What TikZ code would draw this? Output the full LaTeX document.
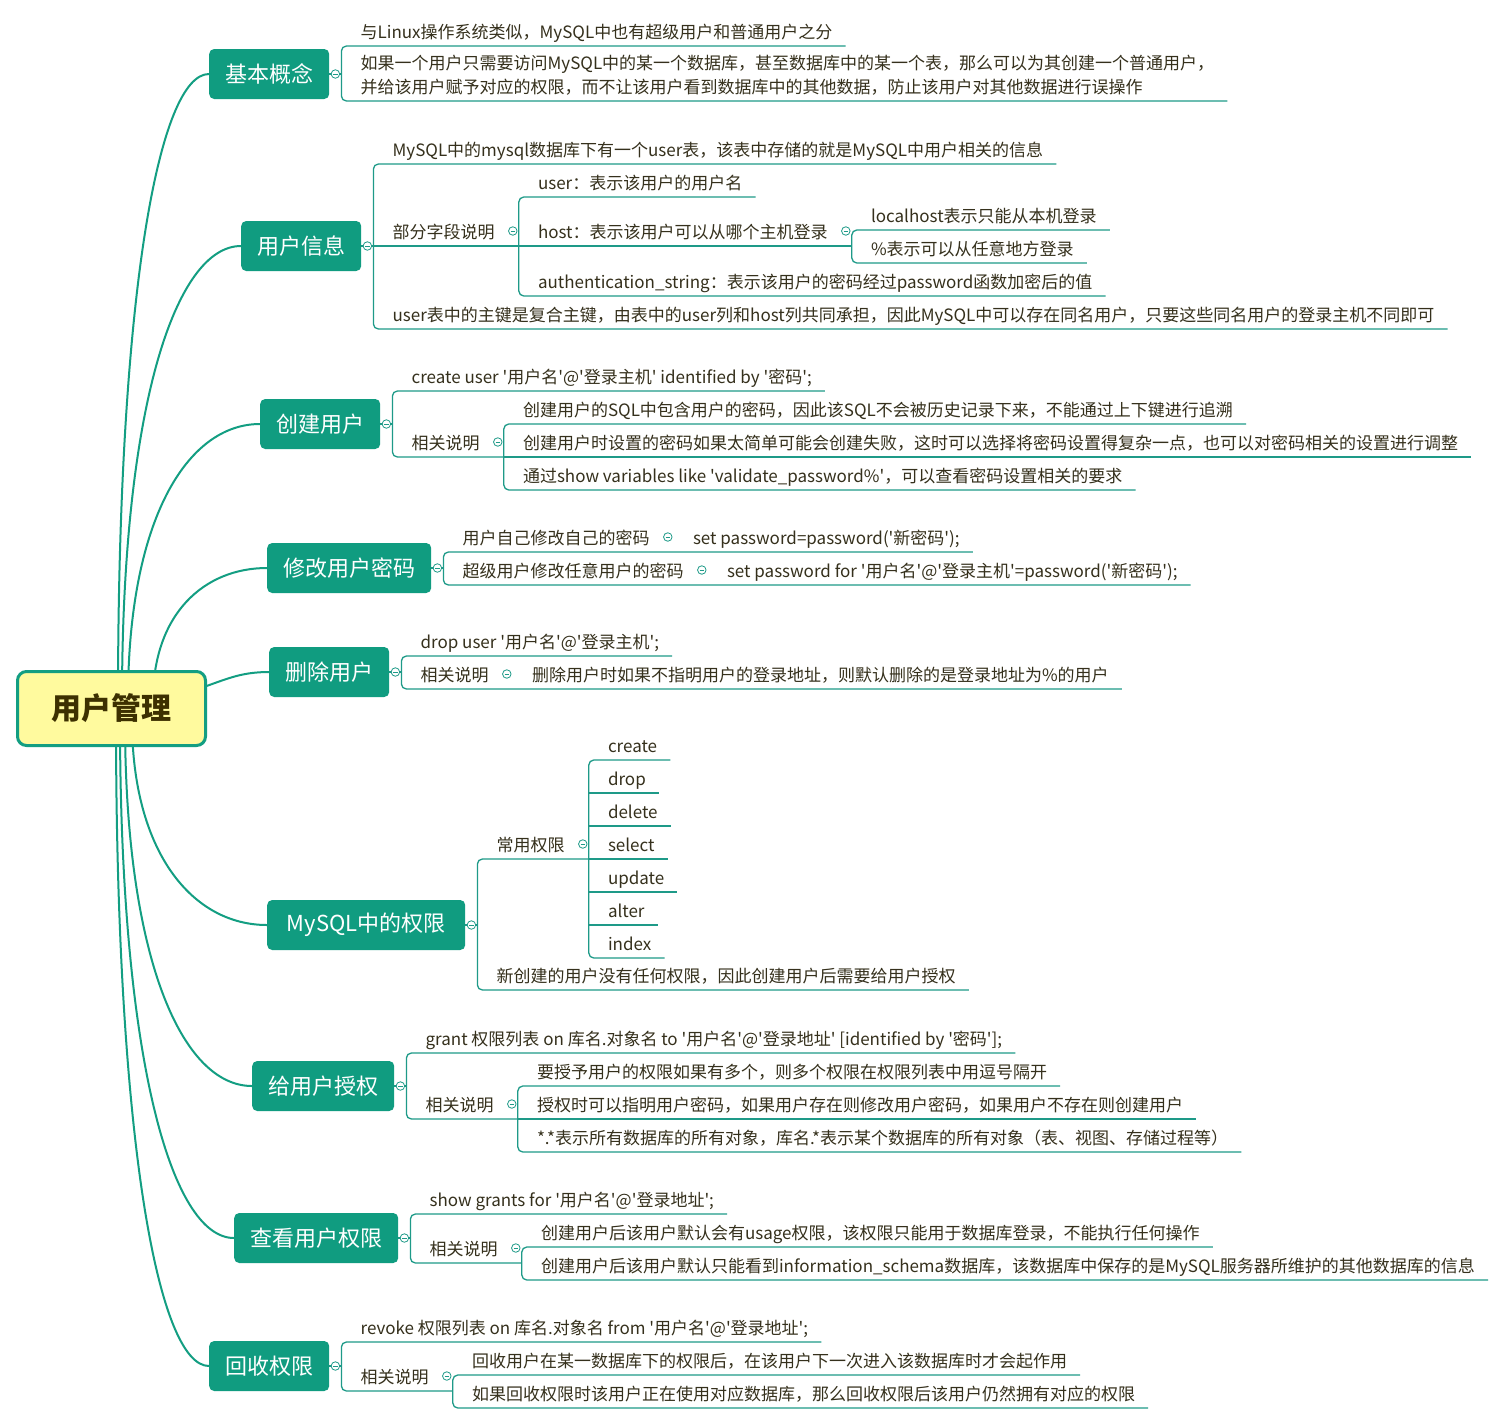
\documentclass[tikz,border=0pt]{standalone}
\usepackage{fontspec}
\setmainfont{Noto Sans CJK SC}[Ligatures=TeXOff]
\usetikzlibrary{calc}
\definecolor{bc}{HTML}{109C80}
\definecolor{lc}{HTML}{1E9A88}
\definecolor{rl}{HTML}{139E82}
\definecolor{rfill}{HTML}{FFFA9E}
\definecolor{rtxt}{HTML}{3D3000}
\definecolor{tc}{HTML}{35301C}
\pgfdeclarelayer{paper}\pgfdeclarelayer{lines}
\pgfsetlayers{paper,lines,main}
\newcommand\lf{\fontsize{17}{24}\selectfont}
\newcommand\bfnt{\fontsize{22}{26}\selectfont}
\newcommand\rfnt{\fontsize{30}{36}\selectfont\bfseries}
\tikzset{
 conn/.style={draw=lc, line width=1.3pt},
 spine/.style={conn, rounded corners=5pt},
 curve/.style={draw=rl, line width=2pt},
 leaf/.style={font=\lf, text=tc, inner xsep=13pt, inner ysep=0pt, text height=13pt, text depth=7.8pt, anchor=south west},
 br/.style={rounded corners=5pt, fill=bc, text=white, font=\bfnt, minimum height=50pt, inner xsep=16pt, inner ysep=0pt, anchor=west},
 rootbox/.style={rounded corners=9pt, draw=rl, line width=3pt, fill=rfill, text=rtxt, font=\rfnt, minimum width=188pt, minimum height=74pt},
 tog/.style={circle, draw=lc, fill=white, line width=0.8pt, minimum size=8.5pt, inner sep=0pt, path picture={\draw[lc, line width=0.7pt] ([xshift=-2.2pt]path picture bounding box.center) -- ([xshift=2.2pt]path picture bounding box.center);}},
}
\begin{document}
\begin{tikzpicture}[x=1pt,y=-1pt]
\useasboundingbox (0,0) rectangle (1506,1424);
\begin{pgfonlayer}{paper}
\fill[white] (0,0) rectangle (1506,1424);
\end{pgfonlayer}

% root and branches
\node[rootbox] (root) at (111.5,708.5) {用户管理};
\node[br] (b1) at (209,74) {基本概念};
\node[br] (b2) at (241,246) {用户信息};
\node[br] (b3) at (260,424) {创建用户};
\node[br] (b4) at (267,568) {修改用户密码};
\node[br] (b5) at (269,672) {删除用户};
\node[br, minimum width=198pt] (b6) at (267,925) {MySQL中的权限};
\node[br] (b7) at (252,1086) {给用户授权};
\node[br] (b8) at (234,1238) {查看用户权限};
\node[br] (b9) at (209,1366) {回收权限};
\foreach \i in {1,...,9} {
  \coordinate (s\i) at ($(b\i.east)+(12,0)$);
  \node[tog] (t\i) at ($(b\i.east)+(6,0)$) {};
}

% branch 1
\node[leaf] (n11) at ($(s1|-0,46)+(6,0)$) {与Linux操作系统类似，MySQL中也有超级用户和普通用户之分};
\node[leaf] (n12) at ($(s1|-0,101)+(6,0)$) {\begin{tabular}[b]{@{}l@{}}如果一个用户只需要访问MySQL中的某一个数据库，甚至数据库中的某一个表，那么可以为其创建一个普通用户，\\并给该用户赋予对应的权限，而不让该用户看到数据库中的其他数据，防止该用户对其他数据进行误操作\end{tabular}};

% branch 2
\node[leaf] (n21) at ($(s2|-0,164)+(6,0)$) {MySQL中的mysql数据库下有一个user表，该表中存储的就是MySQL中用户相关的信息};
\node[leaf] (n22) at ($(s2|-0,246)+(6,0)$) {部分字段说明};
\node[leaf] (n23) at ($(s2|-0,329)+(6,0)$) {user表中的主键是复合主键，由表中的user列和host列共同承担，因此MySQL中可以存在同名用户，只要这些同名用户的登录主机不同即可};
\coordinate (s22) at ($(n22.south east)+(11,0)$);
\node[tog] (t22) at ($(n22.south east)+(5,-15)$) {};
\node[leaf] (n221) at ($(s22|-0,197)+(6,0)$) {user：表示该用户的用户名};
\node[leaf] (n222) at ($(s22|-0,246)+(6,0)$) {host：表示该用户可以从哪个主机登录};
\node[leaf] (n223) at ($(s22|-0,296)+(6,0)$) {authentication\_string：表示该用户的密码经过password函数加密后的值};
\coordinate (s222) at ($(n222.south east)+(11,0)$);
\node[tog] (t222) at ($(n222.south east)+(5,-15)$) {};
\node[leaf] (n2221) at ($(s222|-0,230)+(6,0)$) {localhost表示只能从本机登录};
\node[leaf] (n2222) at ($(s222|-0,263)+(6,0)$) {\%表示可以从任意地方登录};

% branch 3
\node[leaf] (n31) at ($(s3|-0,391)+(6,0)$) {create user '用户名'@'登录主机' identified by '密码';};
\node[leaf] (n32) at ($(s3|-0,457)+(6,0)$) {相关说明};
\coordinate (s32) at ($(n32.south east)+(11,0)$);
\node[tog] (t32) at ($(n32.south east)+(5,-15)$) {};
\node[leaf] (n321) at ($(s32|-0,424)+(6,0)$) {创建用户的SQL中包含用户的密码，因此该SQL不会被历史记录下来，不能通过上下键进行追溯};
\node[leaf] (n322) at ($(s32|-0,457)+(6,0)$) {创建用户时设置的密码如果太简单可能会创建失败，这时可以选择将密码设置得复杂一点，也可以对密码相关的设置进行调整};
\node[leaf] (n323) at ($(s32|-0,490)+(6,0)$) {通过show variables like 'validate\_password\%'，可以查看密码设置相关的要求};

% branch 4
\node[leaf] (n41) at ($(s4|-0,552)+(6,0)$) {用户自己修改自己的密码};
\coordinate (s41) at ($(n41.south east)+(11,0)$);
\node[tog] (t41) at ($(n41.south east)+(5,-15)$) {};
\node[leaf] (n411) at ($(s41|-0,552)+(6,0)$) {set password=password('新密码');};
\node[leaf] (n42) at ($(s4|-0,585)+(6,0)$) {超级用户修改任意用户的密码};
\coordinate (s42) at ($(n42.south east)+(11,0)$);
\node[tog] (t42) at ($(n42.south east)+(5,-15)$) {};
\node[leaf] (n421) at ($(s42|-0,585)+(6,0)$) {set password for '用户名'@'登录主机'=password('新密码');};

% branch 5
\node[leaf] (n51) at ($(s5|-0,656)+(6,0)$) {drop user '用户名'@'登录主机';};
\node[leaf] (n52) at ($(s5|-0,689)+(6,0)$) {相关说明};
\coordinate (s52) at ($(n52.south east)+(11,0)$);
\node[tog] (t52) at ($(n52.south east)+(5,-15)$) {};
\node[leaf] (n521) at ($(s52|-0,689)+(6,0)$) {删除用户时如果不指明用户的登录地址，则默认删除的是登录地址为\%的用户};

% branch 6
\node[leaf] (n61) at ($(s6|-0,859)+(6,0)$) {常用权限};
\node[leaf] (n62) at ($(s6|-0,990)+(6,0)$) {新创建的用户没有任何权限，因此创建用户后需要给用户授权};
\coordinate (s61) at ($(n61.south east)+(11,0)$);
\node[tog] (t61) at ($(n61.south east)+(5,-15)$) {};
\node[leaf] (n611) at ($(s61|-0,760)+(6,0)$) {create};
\node[leaf] (n612) at ($(s61|-0,793)+(6,0)$) {drop};
\node[leaf] (n613) at ($(s61|-0,826)+(6,0)$) {delete};
\node[leaf] (n614) at ($(s61|-0,859)+(6,0)$) {select};
\node[leaf] (n615) at ($(s61|-0,892)+(6,0)$) {update};
\node[leaf] (n616) at ($(s61|-0,925)+(6,0)$) {alter};
\node[leaf] (n617) at ($(s61|-0,958)+(6,0)$) {index};

% branch 7
\node[leaf] (n71) at ($(s7|-0,1053)+(6,0)$) {grant 权限列表 on 库名.对象名 to '用户名'@'登录地址' [identified by '密码'];};
\node[leaf] (n72) at ($(s7|-0,1119)+(6,0)$) {相关说明};
\coordinate (s72) at ($(n72.south east)+(11,0)$);
\node[tog] (t72) at ($(n72.south east)+(5,-15)$) {};
\node[leaf] (n721) at ($(s72|-0,1086)+(6,0)$) {要授予用户的权限如果有多个，则多个权限在权限列表中用逗号隔开};
\node[leaf] (n722) at ($(s72|-0,1119)+(6,0)$) {授权时可以指明用户密码，如果用户存在则修改用户密码，如果用户不存在则创建用户};
\node[leaf] (n723) at ($(s72|-0,1152)+(6,0)$) {*.*表示所有数据库的所有对象，库名.*表示某个数据库的所有对象（表、视图、存储过程等）};

% branch 8
\node[leaf] (n81) at ($(s8|-0,1214)+(6,0)$) {show grants for '用户名'@'登录地址';};
\node[leaf] (n82) at ($(s8|-0,1263)+(6,0)$) {相关说明};
\coordinate (s82) at ($(n82.south east)+(11,0)$);
\node[tog] (t82) at ($(n82.south east)+(5,-15)$) {};
\node[leaf] (n821) at ($(s82|-0,1247)+(6,0)$) {创建用户后该用户默认会有usage权限，该权限只能用于数据库登录，不能执行任何操作};
\node[leaf] (n822) at ($(s82|-0,1280)+(6,0)$) {创建用户后该用户默认只能看到information\_schema数据库，该数据库中保存的是MySQL服务器所维护的其他数据库的信息};

% branch 9
\node[leaf] (n91) at ($(s9|-0,1342)+(6,0)$) {revoke 权限列表 on 库名.对象名 from '用户名'@'登录地址';};
\node[leaf] (n92) at ($(s9|-0,1391)+(6,0)$) {相关说明};
\coordinate (s92) at ($(n92.south east)+(11,0)$);
\node[tog] (t92) at ($(n92.south east)+(5,-15)$) {};
\node[leaf] (n921) at ($(s92|-0,1375)+(6,0)$) {回收用户在某一数据库下的权限后，在该用户下一次进入该数据库时才会起作用};
\node[leaf] (n922) at ($(s92|-0,1408)+(6,0)$) {如果回收权限时该用户正在使用对应数据库，那么回收权限后该用户仍然拥有对应的权限};

\begin{pgfonlayer}{lines}
% root curves
\coordinate (r1) at (118,700);
\coordinate (r2) at (122,700);
\coordinate (r3) at (128,700);
\coordinate (r4) at (153,700);
\coordinate (r5) at (195,690);
\coordinate (r6) at (132,720);
\coordinate (r7) at (125,720);
\coordinate (r8) at (120,720);
\coordinate (r9) at (116,720);
\draw[curve] (r1) .. controls +(0,-407) and +(-50,0) .. (b1.west);
\draw[curve] (r2) .. controls +(0,-295) and +(-65,0) .. (b2.west);
\draw[curve] (r3) .. controls +(0,-180) and +(-73,0) .. (b3.west);
\draw[curve] (r4) .. controls +(0,-86) and +(-63,0) .. (b4.west);
\draw[curve] (r5) .. controls +(30,-10) and +(-30,0) .. (b5.west);
\draw[curve] (r6) .. controls +(0,133) and +(-74,0) .. (b6.west);
\draw[curve] (r7) .. controls +(0,238) and +(-70,0) .. (b7.west);
\draw[curve] (r8) .. controls +(0,337) and +(-63,0) .. (b8.west);
\draw[curve] (r9) .. controls +(0,420) and +(-51,0) .. (b9.west);
% branch stubs
\foreach \i in {1,...,9} { \draw[conn] (b\i.east) -- (s\i); }
% branch 1
\draw[spine] (n11.south east) -- (n11.south west -| s1) -- (n12.south west -| s1) -- (n12.south east);
% branch 2
\draw[spine] (n21.south east) -- (n21.south west -| s2) -- (n23.south west -| s2) -- (n23.south east);
\draw[conn] (n22.south west -| s2) -- (s22);
\draw[spine] (n221.south east) -- (n221.south west -| s22) -- (n223.south west -| s22) -- (n223.south east);
\draw[conn] (n222.south west -| s22) -- (s222);
\draw[spine] (n2221.south east) -- (n2221.south west -| s222) -- (n2222.south west -| s222) -- (n2222.south east);
% branch 3
\draw[spine] (n31.south east) -- (n31.south west -| s3) -- (n32.south west -| s3) -- (s32);
\draw[spine] (n321.south east) -- (n321.south west -| s32) -- (n323.south west -| s32) -- (n323.south east);
\draw[conn] (n322.south west -| s32) -- (n322.south east);
% branch 4
\draw[spine] (n411.south east) -- (n41.south west -| s4) -- (n42.south west -| s4) -- (n421.south east);
% branch 5
\draw[spine] (n51.south east) -- (n51.south west -| s5) -- (n52.south west -| s5) -- (n521.south east);
% branch 6
\draw[spine] (s61) -- (n61.south west -| s6) -- (n62.south west -| s6) -- (n62.south east);
\draw[spine] (n611.south east) -- (n611.south west -| s61) -- (n617.south west -| s61) -- (n617.south east);
\foreach \k in {2,...,6} { \draw[conn] (n61\k.south west -| s61) -- (n61\k.south east); }
% branch 7
\draw[spine] (n71.south east) -- (n71.south west -| s7) -- (n72.south west -| s7) -- (s72);
\draw[spine] (n721.south east) -- (n721.south west -| s72) -- (n723.south west -| s72) -- (n723.south east);
\draw[conn] (n722.south west -| s72) -- (n722.south east);
% branch 8
\draw[spine] (n81.south east) -- (n81.south west -| s8) -- (n82.south west -| s8) -- (s82);
\draw[spine] (n821.south east) -- (n821.south west -| s82) -- (n822.south west -| s82) -- (n822.south east);
% branch 9
\draw[spine] (n91.south east) -- (n91.south west -| s9) -- (n92.south west -| s9) -- (s92);
\draw[spine] (n921.south east) -- (n921.south west -| s92) -- (n922.south west -| s92) -- (n922.south east);
\end{pgfonlayer}
\end{tikzpicture}
\end{document}
